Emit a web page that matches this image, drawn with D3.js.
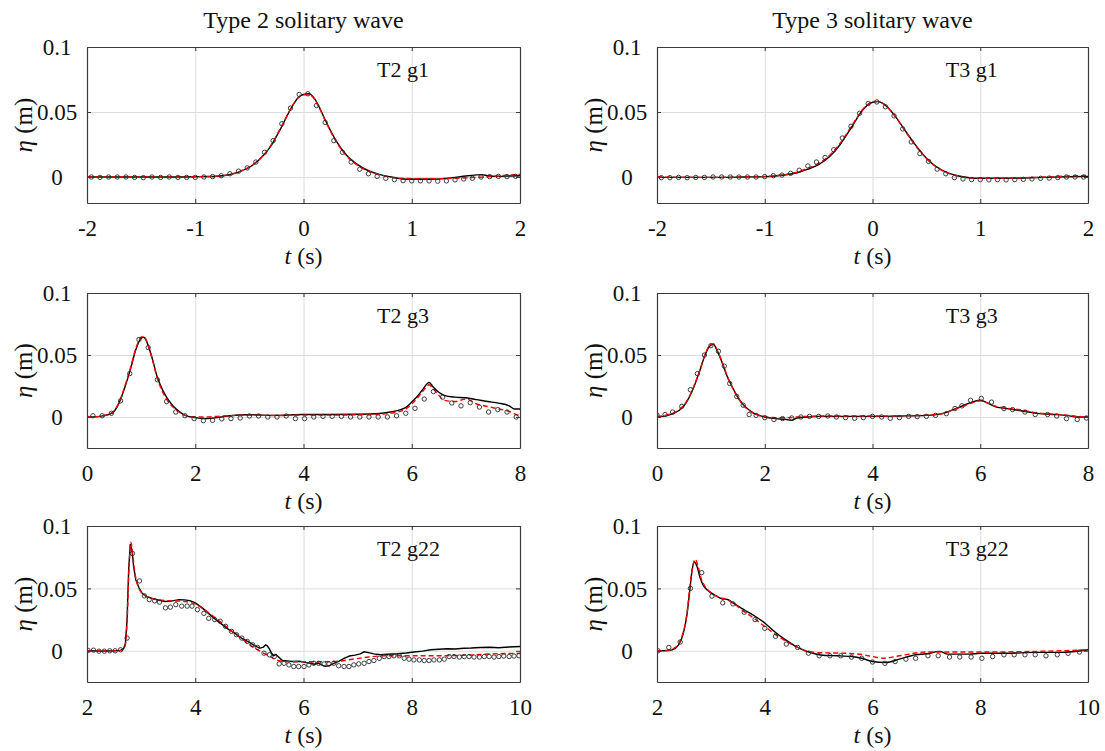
<!DOCTYPE html>
<html>
<head>
<meta charset="utf-8">
<script src="https://cdn.jsdelivr.net/npm/d3@7"></script>
<style>
  body { margin: 0; background: #fff; }
  svg text { font-family: "Liberation Serif", "Times New Roman", serif; fill: #111; }
</style>
</head>
<body>
<svg id="fig" width="1105" height="751"></svg>
<script>
// ---- data (t in s, eta in m) ----

// T2 g1
var t2g1_t = [-2, -1.5, -1.2, -1, -0.8, -0.7, -0.6, -0.5, -0.4, -0.3, -0.2, -0.1, -0.05, 0, 0.05, 0.1, 0.15, 0.2, 0.3, 0.4, 0.5, 0.6, 0.7, 0.8, 0.9, 1.0, 1.1, 1.2, 1.3, 1.4, 1.5, 1.6, 1.65, 1.7, 1.8, 1.9, 2.0];
var t2g1_solid = [0, 0, 0, 0.0002, 0.0006, 0.0015, 0.0038, 0.0075, 0.014, 0.024, 0.039, 0.055, 0.061, 0.0635, 0.064, 0.0605, 0.053, 0.044, 0.028, 0.0165, 0.0095, 0.0048, 0.002, 0.0002, -0.0013, -0.0017, -0.0017, -0.0017, -0.0012, -0.0003, 0.0008, 0.0016, 0.0018, 0.001, 0.0005, 0.0008, 0.001];
var t2g1_dash = [0, 0, 0, 0.0002, 0.0007, 0.0016, 0.004, 0.0078, 0.0143, 0.0245, 0.0395, 0.0552, 0.061, 0.0633, 0.0635, 0.06, 0.0525, 0.0435, 0.0275, 0.016, 0.009, 0.0045, 0.0018, 0, -0.001, -0.0013, -0.0014, -0.0014, -0.0012, -0.001, -0.0007, -0.0003, -0.0001, 0.0002, 0.0008, 0.0015, 0.002];
var g1_ot = [-1.96, -1.88, -1.8, -1.72, -1.64, -1.56, -1.48, -1.4, -1.32, -1.24, -1.16, -1.08, -1.0, -0.92, -0.84, -0.76, -0.68, -0.6, -0.52, -0.44, -0.36, -0.28, -0.2, -0.12, -0.04, 0.04, 0.12, 0.2, 0.28, 0.36, 0.44, 0.52, 0.6, 0.68, 0.76, 0.84, 0.92, 1.0, 1.08, 1.16, 1.24, 1.32, 1.4, 1.48, 1.56, 1.64, 1.72, 1.8, 1.88, 1.96];
var t2g1_obs = [0, -0.0003, 0, 0, 0, -0.0003, -0.0005, 0, -0.0003, 0, -0.0003, -0.0003, -0.0003, 0, 0.0003, 0.001, 0.0025, 0.0045, 0.007, 0.0115, 0.019, 0.028, 0.041, 0.053, 0.0635, 0.064, 0.055, 0.042, 0.028, 0.019, 0.0115, 0.006, 0.0025, 0.0005, -0.001, -0.002, -0.0028, -0.003, -0.003, -0.003, -0.0032, -0.003, -0.0022, -0.0015, -0.001, 0, 0.0003, 0.0005, 0.0003, 0.0005];

// T3 g1
var t3g1_t = [-2, -1.5, -1.2, -1, -0.9, -0.8, -0.7, -0.6, -0.5, -0.4, -0.3, -0.2, -0.1, -0.05, 0, 0.05, 0.1, 0.2, 0.3, 0.4, 0.5, 0.6, 0.7, 0.8, 0.9, 1.0, 1.2, 1.4, 1.6, 1.8, 2.0];
var t3g1_solid = [-0.0003, -0.0003, 0, 0.0003, 0.0008, 0.0017, 0.0033, 0.006, 0.0095, 0.0155, 0.025, 0.0375, 0.0505, 0.055, 0.0575, 0.058, 0.0565, 0.048, 0.036, 0.0245, 0.0145, 0.0075, 0.0032, 0.0008, -0.0006, -0.001, -0.001, -0.0008, -0.0003, 0.0002, 0.0005];
var t3g1_dash = [0, -0.0003, 0, 0.0004, 0.001, 0.002, 0.0038, 0.0068, 0.0105, 0.0165, 0.026, 0.0385, 0.051, 0.0555, 0.058, 0.0582, 0.0565, 0.0478, 0.0358, 0.024, 0.0142, 0.0072, 0.003, 0.0006, -0.0006, -0.001, -0.0009, -0.0005, 0, 0.0007, 0.0012];
var t3g1_obs = [-0.0005, -0.0005, -0.0003, -0.0005, -0.0003, -0.0003, 0, 0, 0, 0, 0, 0, 0.0003, 0.001, 0.0015, 0.0028, 0.0052, 0.0085, 0.0115, 0.015, 0.021, 0.03, 0.039, 0.049, 0.0565, 0.0577, 0.054, 0.047, 0.037, 0.027, 0.018, 0.012, 0.006, 0.0025, -0.0005, -0.0015, -0.002, -0.002, -0.0022, -0.002, -0.0022, -0.002, -0.0018, -0.0015, -0.001, -0.0008, -0.0005, 0, 0, 0];

// T2 g3
var t2g3_t = [0, 0.2, 0.3, 0.4, 0.5, 0.6, 0.7, 0.8, 0.9, 1.0, 1.05, 1.1, 1.2, 1.3, 1.4, 1.5, 1.6, 1.7, 1.8, 2.0, 2.2, 2.4, 2.6, 3.0, 3.5, 4.0, 4.5, 5.0, 5.4, 5.6, 5.8, 5.9, 6.0, 6.1, 6.2, 6.32, 6.4, 6.5, 6.6, 6.8, 7.0, 7.2, 7.4, 7.6, 7.8, 7.9, 8.0];
var t2g3_solid = [0, 0.0003, 0.001, 0.002, 0.0045, 0.012, 0.024, 0.038, 0.054, 0.0635, 0.0643, 0.061, 0.048, 0.032, 0.0215, 0.014, 0.0085, 0.0045, 0.0015, -0.0005, -0.0013, -0.0005, 0.0008, 0.0018, 0.0013, 0.002, 0.002, 0.0022, 0.0028, 0.004, 0.006, 0.008, 0.012, 0.0165, 0.022, 0.0278, 0.024, 0.02, 0.0175, 0.016, 0.0155, 0.014, 0.0125, 0.0112, 0.009, 0.0065, 0.0065];
var t2g3_dash = [0, 0.0003, 0.001, 0.0022, 0.005, 0.0125, 0.025, 0.039, 0.055, 0.0645, 0.065, 0.0615, 0.0475, 0.031, 0.02, 0.0125, 0.0075, 0.004, 0.0015, 0, 0, 0.0005, 0.001, 0.0015, 0.0012, 0.0015, 0.0015, 0.0018, 0.0022, 0.003, 0.0048, 0.0068, 0.0105, 0.015, 0.0205, 0.026, 0.0225, 0.0175, 0.0135, 0.0125, 0.0145, 0.0105, 0.0085, 0.0065, 0.0045, 0.0025, 0.001];
var t2g3_ot = [0.11, 0.28, 0.45, 0.62, 0.79, 0.96, 1.13, 1.3, 1.47, 1.64, 1.81, 1.98, 2.15, 2.32, 2.49, 2.66, 2.83, 3.0, 3.17, 3.34, 3.51, 3.68, 3.85, 4.02, 4.19, 4.36, 4.53, 4.7, 4.87, 5.04, 5.21, 5.38, 5.55, 5.72, 5.89, 6.06, 6.23, 6.4, 6.57, 6.74, 6.91, 7.08, 7.25, 7.42, 7.59, 7.76, 7.93];
var t2g3_obs = [0.001, 0.001, 0.003, 0.013, 0.035, 0.0625, 0.056, 0.03, 0.0125, 0.004, 0.001, -0.0013, -0.003, -0.0027, -0.0015, -0.0013, -0.0008, 0.0008, 0.0008, 0, 0, 0.0008, -0.0013, -0.0013, 0, 0.0005, 0.0005, 0.0005, 0, 0, 0, 0, 0, 0.001, 0.003, 0.007, 0.0145, 0.0205, 0.016, 0.0113, 0.009, 0.0115, 0.008, 0.004, 0.006, 0.004, 0];

// T3 g3
var t3g3_t = [0, 0.2, 0.4, 0.5, 0.6, 0.7, 0.8, 0.9, 1.0, 1.05, 1.1, 1.2, 1.3, 1.4, 1.5, 1.6, 1.7, 1.8, 1.9, 2.0, 2.2, 2.4, 2.5, 2.6, 2.8, 3.0, 3.5, 4.0, 4.5, 5.0, 5.3, 5.5, 5.7, 5.85, 6.0, 6.1, 6.3, 6.5, 6.7, 6.9, 7.1, 7.4, 7.6, 7.8, 8.0];
var t3g3_solid = [0, 0.0013, 0.005, 0.009, 0.016, 0.026, 0.038, 0.051, 0.058, 0.0587, 0.055, 0.045, 0.033, 0.024, 0.016, 0.01, 0.006, 0.003, 0.0013, 0, -0.0013, -0.002, -0.0027, -0.0008, 0, 0.0005, 0.0005, 0.0005, 0.0008, 0.0013, 0.0027, 0.006, 0.0095, 0.012, 0.0135, 0.012, 0.008, 0.0068, 0.0054, 0.004, 0.0027, 0.002, 0.0013, 0, 0];
var t3g3_dash = [0.0005, 0.0018, 0.0055, 0.0095, 0.0165, 0.0265, 0.0385, 0.0515, 0.0585, 0.059, 0.0555, 0.0455, 0.0335, 0.0235, 0.0155, 0.0095, 0.0055, 0.0028, 0.0012, 0.0003, -0.0005, -0.0005, -0.0005, 0, 0.0005, 0.0008, 0.0008, 0.0008, 0.001, 0.0015, 0.0028, 0.0058, 0.009, 0.0115, 0.013, 0.0118, 0.0085, 0.007, 0.006, 0.0045, 0.003, 0.0022, 0.0015, 0.0005, 0];
var t3g3_ot = [0, 0.15, 0.29, 0.46, 0.62, 0.75, 0.88, 1.0, 1.14, 1.25, 1.35, 1.48, 1.6, 1.71, 1.84, 2.0, 2.17, 2.33, 2.5, 2.67, 2.83, 3.0, 3.17, 3.33, 3.5, 3.67, 3.83, 4.0, 4.17, 4.33, 4.5, 4.67, 4.83, 5.0, 5.17, 5.37, 5.53, 5.66, 5.82, 6.02, 6.21, 6.44, 6.6, 6.83, 7.02, 7.25, 7.42, 7.6, 7.8, 7.97];
var t3g3_obs = [0.0015, 0.002, 0.004, 0.0086, 0.022, 0.035, 0.05, 0.0575, 0.053, 0.041, 0.027, 0.0165, 0.0095, 0.002, 0.0013, -0.0005, -0.002, -0.0013, -0.0008, 0, 0.0005, 0.0005, 0.0008, 0, -0.0005, -0.001, -0.0005, 0.0005, 0, -0.001, -0.0005, 0.0005, 0.0003, 0.0005, 0.0013, 0.0027, 0.0068, 0.009, 0.0135, 0.015, 0.012, 0.0068, 0.006, 0.004, 0.002, 0.002, 0.0008, -0.0013, -0.002, -0.0008];

// T2 g22
var t2g22_st = [2.0, 2.3, 2.5, 2.62, 2.68, 2.71, 2.74, 2.77, 2.8, 2.83, 2.86, 2.9, 2.96, 3.02, 3.1, 3.2, 3.33, 3.45, 3.55, 3.7, 3.8, 3.9, 4.0, 4.13, 4.25, 4.38, 4.5, 4.62, 4.75, 4.87, 5.0, 5.12, 5.2, 5.26, 5.3, 5.33, 5.37, 5.41, 5.45, 5.49, 5.53, 5.61, 5.7, 5.79, 5.9, 5.98, 6.05, 6.13, 6.2, 6.27, 6.33, 6.4, 6.47, 6.56, 6.65, 6.75, 6.85, 6.95, 7.05, 7.12, 7.2, 7.3, 7.43, 7.55, 7.73, 7.9, 8.04, 8.2, 8.35, 8.5, 8.66, 8.8, 8.96, 9.1, 9.27, 9.45, 9.6, 9.8, 10.0];
var t2g22_solid = [0, -0.0003, 0, 0.0003, 0.002, 0.006, 0.025, 0.065, 0.0855, 0.081, 0.068, 0.057, 0.0505, 0.046, 0.0435, 0.042, 0.0405, 0.0395, 0.0398, 0.041, 0.0408, 0.0402, 0.0384, 0.0344, 0.0298, 0.025, 0.021, 0.017, 0.0135, 0.0097, 0.0068, 0.0035, 0.0022, 0.003, 0.0048, 0.004, 0.0015, -0.002, -0.004, -0.0028, -0.0045, -0.0078, -0.0082, -0.0086, -0.0084, -0.0088, -0.0095, -0.01, -0.0108, -0.0098, -0.0112, -0.0125, -0.012, -0.01, -0.0085, -0.006, -0.0042, -0.0035, -0.0025, -0.0008, -0.0015, -0.0025, -0.0032, -0.0028, -0.0024, -0.0018, -0.001, -0.0003, 0.0008, 0.0012, 0.0016, 0.0015, 0.002, 0.0022, 0.0027, 0.0028, 0.0025, 0.003, 0.0035];
var t2g22_dt = [2.0, 2.5, 2.65, 2.7, 2.74, 2.78, 2.81, 2.84, 2.88, 2.95, 3.05, 3.2, 3.4, 3.6, 3.8, 4.0, 4.2, 4.4, 4.6, 4.8, 5.0, 5.2, 5.4, 5.55, 5.7, 6.0, 6.3, 6.6, 6.9, 7.2, 7.5, 8.0, 8.5, 9.0, 9.5, 10.0];
var t2g22_dash = [0, 0, 0.0005, 0.003, 0.022, 0.07, 0.087, 0.079, 0.064, 0.051, 0.045, 0.042, 0.0405, 0.04, 0.0395, 0.0375, 0.032, 0.0255, 0.0185, 0.0115, 0.005, -0.0005, -0.005, -0.008, -0.0088, -0.0088, -0.0088, -0.0085, -0.0068, -0.005, -0.004, -0.004, -0.004, -0.0035, -0.0025, -0.002];
var t2g22_ot = [2.02, 2.12, 2.22, 2.32, 2.42, 2.52, 2.62, 2.74, 2.84, 2.97, 3.06, 3.15, 3.25, 3.34, 3.45, 3.54, 3.64, 3.75, 3.85, 3.94, 4.04, 4.16, 4.25, 4.36, 4.46, 4.56, 4.67, 4.76, 4.86, 4.96, 5.06, 5.15, 5.27, 5.37, 5.46, 5.55, 5.64, 5.73, 5.82, 5.91, 6.01, 6.1, 6.19, 6.28, 6.38, 6.47, 6.56, 6.65, 6.75, 6.84, 6.93, 7.02, 7.12, 7.21, 7.3, 7.4, 7.49, 7.58, 7.67, 7.77, 7.86, 7.95, 8.04, 8.14, 8.23, 8.32, 8.41, 8.51, 8.6, 8.69, 8.78, 8.88, 8.97, 9.06, 9.15, 9.25, 9.34, 9.43, 9.52, 9.61, 9.7, 9.8, 9.89, 9.98];
var t2g22_obs = [0.0003, 0.0005, -0.0003, -0.0003, 0, 0, 0.0008, 0.0102, 0.078, 0.056, 0.044, 0.041, 0.04, 0.039, 0.0344, 0.035, 0.037, 0.0358, 0.0358, 0.0358, 0.033, 0.03, 0.026, 0.025, 0.0237, 0.0196, 0.0156, 0.0129, 0.0102, 0.0075, 0.0048, 0.0027, -0.0019, -0.0032, -0.0046, -0.0105, -0.01, -0.0113, -0.0126, -0.0126, -0.0126, -0.0113, -0.01, -0.01, -0.0105, -0.0105, -0.01, -0.012, -0.0126, -0.0126, -0.0113, -0.0105, -0.01, -0.0086, -0.0078, -0.006, -0.0046, -0.0046, -0.004, -0.004, -0.006, -0.0067, -0.0073, -0.0073, -0.0078, -0.0078, -0.0073, -0.0073, -0.0067, -0.0046, -0.0046, -0.005, -0.0046, -0.0046, -0.005, -0.005, -0.0046, -0.0046, -0.005, -0.0046, -0.0042, -0.0046, -0.0042, -0.004];

// T3 g22
var t3g22_st = [2.0, 2.15, 2.28, 2.4, 2.49, 2.56, 2.6, 2.65, 2.69, 2.74, 2.8, 2.86, 2.96, 3.08, 3.2, 3.31, 3.41, 3.63, 3.82, 4.0, 4.19, 4.38, 4.56, 4.75, 4.93, 5.12, 5.36, 5.61, 5.8, 6.0, 6.25, 6.5, 6.8, 7.0, 7.25, 7.4, 7.8, 8.0, 8.5, 9.0, 9.5, 10.0];
var t3g22_solid = [0, 0, 0.0008, 0.0048, 0.0142, 0.03, 0.045, 0.064, 0.0712, 0.068, 0.0586, 0.0524, 0.0478, 0.0444, 0.0417, 0.0411, 0.0384, 0.0325, 0.0277, 0.0223, 0.015, 0.0089, 0.004, 0, -0.0024, -0.0038, -0.004, -0.0046, -0.006, -0.0086, -0.0094, -0.0067, -0.0032, -0.0024, -0.0005, -0.0027, -0.0027, -0.002, -0.002, -0.0013, -0.0013, 0.0008];
var t3g22_dt = [2.0, 2.2, 2.35, 2.45, 2.55, 2.62, 2.67, 2.71, 2.76, 2.82, 2.9, 3.0, 3.15, 3.3, 3.45, 3.6, 3.8, 4.0, 4.2, 4.4, 4.6, 4.75, 5.0, 5.5, 5.8, 6.0, 6.2, 6.5, 7.0, 7.5, 8.0, 9.0, 10.0];
var t3g22_dash = [0, 0.0005, 0.003, 0.01, 0.028, 0.055, 0.069, 0.0734, 0.068, 0.058, 0.051, 0.0465, 0.043, 0.041, 0.037, 0.032, 0.026, 0.0195, 0.013, 0.0075, 0.003, 0.0003, -0.0015, -0.002, -0.003, -0.0046, -0.006, -0.004, -0.001, -0.001, -0.001, -0.0005, 0.0008];
var t3g22_ot = [2.02, 2.22, 2.43, 2.62, 2.83, 3.02, 3.22, 3.41, 3.62, 3.82, 4.0, 4.2, 4.4, 4.61, 4.81, 5.01, 5.21, 5.41, 5.61, 5.8, 6.0, 6.23, 6.42, 6.62, 6.8, 7.03, 7.22, 7.43, 7.62, 7.83, 8.03, 8.23, 8.44, 8.63, 8.83, 9.02, 9.22, 9.43, 9.63, 9.84];
var t3g22_obs = [0, 0.0027, 0.007, 0.05, 0.0626, 0.0438, 0.0384, 0.0376, 0.0309, 0.025, 0.018, 0.0116, 0.0054, 0.0027, -0.0019, -0.004, -0.004, -0.004, -0.0051, -0.006, -0.009, -0.01, -0.0086, -0.0067, -0.006, -0.004, -0.004, -0.005, -0.005, -0.005, -0.006, -0.0046, -0.0032, -0.0032, -0.0032, -0.0032, -0.004, -0.0032, -0.002, -0.001];

// axis ticks
var xTicksG1 = [-2, -1, 0, 1, 2];
var xTicksG3 = [0, 2, 4, 6, 8];
var xTicksG22 = [2, 4, 6, 8, 10];
var yTicks = [0, 0.05, 0.1];
var titles = ["Type 2 solitary wave", "Type 3 solitary wave"];

// ---- layout ----
var svg = d3.select("#fig");
var colL = {x: 87, w: 433}, colR = {x: 657, w: 431};
var rows = [{y: 47, h: 156, yd: [-0.02, 0.1]}, {y: 293, h: 155, yd: [-0.025, 0.1]}, {y: 526, h: 156, yd: [-0.025, 0.1]}];

var panels = [
  {col: colL, row: rows[0], xd: [-2, 2], xt: xTicksG1, lab: "T2 g1",
   solid: [t2g1_t, t2g1_solid], dash: [t2g1_t, t2g1_dash], obs: [g1_ot, t2g1_obs], curve: d3.curveMonotoneX},
  {col: colR, row: rows[0], xd: [-2, 2], xt: xTicksG1, lab: "T3 g1",
   solid: [t3g1_t, t3g1_solid], dash: [t3g1_t, t3g1_dash], obs: [g1_ot, t3g1_obs], curve: d3.curveMonotoneX},
  {col: colL, row: rows[1], xd: [0, 8], xt: xTicksG3, lab: "T2 g3",
   solid: [t2g3_t, t2g3_solid], dash: [t2g3_t, t2g3_dash], obs: [t2g3_ot, t2g3_obs], curve: d3.curveMonotoneX},
  {col: colR, row: rows[1], xd: [0, 8], xt: xTicksG3, lab: "T3 g3",
   solid: [t3g3_t, t3g3_solid], dash: [t3g3_t, t3g3_dash], obs: [t3g3_ot, t3g3_obs], curve: d3.curveMonotoneX},
  {col: colL, row: rows[2], xd: [2, 10], xt: xTicksG22, lab: "T2 g22",
   solid: [t2g22_st, t2g22_solid], dash: [t2g22_dt, t2g22_dash], obs: [t2g22_ot, t2g22_obs], curve: d3.curveLinear},
  {col: colR, row: rows[2], xd: [2, 10], xt: xTicksG22, lab: "T3 g22",
   solid: [t3g22_st, t3g22_solid], dash: [t3g22_dt, t3g22_dash], obs: [t3g22_ot, t3g22_obs], curve: d3.curveMonotoneX}
];

// column titles
svg.selectAll("text.title")
  .data(titles)
  .enter().append("text")
  .attr("class", "title")
  .attr("x", function(d, i) { var c = i ? colR : colL; return c.x + c.w / 2; })
  .attr("y", 28)
  .attr("text-anchor", "middle")
  .style("font-size", "24px")
  .text(function(d) { return d; });

panels.forEach(drawPanel);

function drawPanel(p, k)
{
  var w = p.col.w, h = p.row.h;
  var x = d3.scaleLinear().domain(p.xd).range([0, w]),
      y = d3.scaleLinear().domain(p.row.yd).range([h, 0]);
  var g = svg.append("g").attr("transform", "translate(" + p.col.x + "," + p.row.y + ")");

  g.append("clipPath").attr("id", "clip" + k)
    .append("rect").attr("width", w).attr("height", h);

  // grid
  g.append("g").attr("transform", "translate(0," + h + ")")
    .call(d3.axisBottom(x).tickValues(p.xt).tickSize(-h).tickFormat(""))
    .call(function(s) {
      s.select(".domain").remove();
      s.selectAll("line").attr("stroke", "#dcdcdc");
    });
  g.append("g")
    .call(d3.axisLeft(y).tickValues(yTicks).tickSize(-w).tickFormat(""))
    .call(function(s) {
      s.select(".domain").remove();
      s.selectAll("line").attr("stroke", "#dcdcdc");
    });

  // series
  var plot = g.append("g").attr("clip-path", "url(#clip" + k + ")");
  var line = d3.line().x(function(d) { return x(d[0]); }).y(function(d) { return y(d[1]); });

  plot.append("path")
    .datum(d3.zip(p.solid[0], p.solid[1]))
    .attr("fill", "none").attr("stroke", "#000").attr("stroke-width", 1.4)
    .attr("d", line.curve(p.curve));

  plot.append("path")
    .datum(d3.zip(p.dash[0], p.dash[1]))
    .attr("fill", "none").attr("stroke", "#ff0000").attr("stroke-width", 1.4)
    .attr("stroke-dasharray", "5,3")
    .attr("d", line.curve(d3.curveMonotoneX));

  plot.selectAll("circle")
    .data(d3.zip(p.obs[0], p.obs[1]))
    .enter().append("circle")
    .attr("cx", function(d) { return x(d[0]); })
    .attr("cy", function(d) { return y(d[1]); })
    .attr("r", 2.2)
    .attr("fill", "none").attr("stroke", "#2a2a2a").attr("stroke-width", 0.9);

  // frame + inside ticks on all four sides
  var ax = "#3a3a3a";
  function styleAxis(s) {
    s.select(".domain").attr("stroke", ax).attr("stroke-width", 1.2);
    s.selectAll(".tick line").attr("stroke", ax);
    s.selectAll(".tick text").remove();
  }
  g.append("g").call(d3.axisTop(x).tickValues(p.xt).tickSize(-4).tickSizeOuter(0)).call(styleAxis);
  g.append("g").attr("transform", "translate(" + w + ",0)")
    .call(d3.axisRight(y).tickValues(yTicks).tickSize(-4).tickSizeOuter(0)).call(styleAxis);

  var xa = g.append("g").attr("transform", "translate(0," + h + ")")
    .call(d3.axisBottom(x).tickValues(p.xt).tickSize(-4).tickSizeOuter(0)
      .tickFormat(function(d) { return String(d); }));
  xa.select(".domain").attr("stroke", ax).attr("stroke-width", 1.2);
  xa.selectAll(".tick line").attr("stroke", ax);
  xa.selectAll(".tick text").attr("y", 33).attr("dy", null)
    .style("font-size", "23px").attr("fill", null);

  var ya = g.append("g")
    .call(d3.axisLeft(y).tickValues(yTicks).tickSize(-4).tickSizeOuter(0)
      .tickFormat(function(d) { return String(d); }));
  ya.select(".domain").attr("stroke", ax).attr("stroke-width", 1.2);
  ya.selectAll(".tick line").attr("stroke", ax);
  ya.selectAll(".tick text").attr("x", -30).attr("dy", "0.34em")
    .attr("text-anchor", "middle").style("font-size", "23px").attr("fill", null);

  // axis labels
  var xl = g.append("text").attr("x", w / 2).attr("y", h + 61)
    .attr("text-anchor", "middle").style("font-size", "24px");
  xl.append("tspan").style("font-style", "italic").text("t");
  xl.append("tspan").text(" (s)");

  var yl = g.append("text")
    .attr("transform", "translate(-64," + (h / 2) + ") rotate(-90)")
    .attr("text-anchor", "middle").attr("dy", "0.34em").style("font-size", "25px");
  yl.append("tspan").style("font-style", "italic").text("η");
  yl.append("tspan").text(" (m)");

  // gauge label
  g.append("text").attr("x", w * 0.67).attr("y", 30)
    .style("font-size", "22px").text(p.lab);
}
</script>
</body>
</html>
